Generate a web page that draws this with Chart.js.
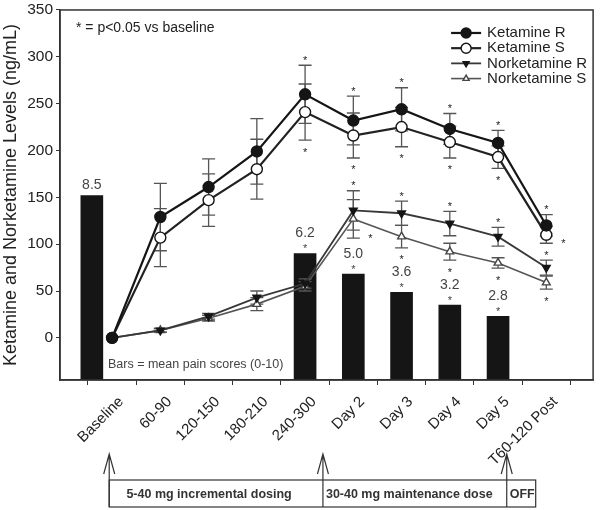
<!DOCTYPE html>
<html>
<head>
<meta charset="utf-8">
<script src="https://cdn.jsdelivr.net/npm/chart.js@4.4.1/dist/chart.umd.min.js"></script>
<style>
  html, body { margin: 0; padding: 0; background: #fff; }
</style>
</head>
<body>
<canvas id="chart" width="600" height="510"></canvas>
<script>
// ---- data ----
const timeLabels = ['Baseline', '60-90', '120-150', '180-210', '240-300', 'Day 2', 'Day 3', 'Day 4', 'Day 5', 'T60-120 Post'];

// plasma levels (ng/mL), mean and +/- error
const ketamineR = [0, 129, 161, 199, 260, 232, 244, 223, 208, 120];
const ketamineS = [0, 107, 147, 180, 241, 216, 225, 209, 193, 110];
const norketamineR = [0, 8, 23, 43, 58, 136, 133, 122, 108, 75];
const norketamineS = [0, 8, 21, 36, 55, 127, 108, 92, 80, 59];

const ketamineRErr = [0, 36, 30, 35, 31, 26, 23, 16.5, 13.5, 11.5];
const ketamineSErr = [0, 31, 28, 32, 30, 24, 21, 17, 12, 9];
const norketamineRErr = [0, 2, 3, 7, 5, 21, 13, 13, 10, 8];
const norketamineSErr = [0, 2, 3, 7, 5, 20.5, 12, 9, 5.5, 7];

// p<0.05 markers: where the asterisk sits relative to the error bar
const ketamineRSig = [null, null, null, null, 'above', 'above', 'above', 'above', 'above', 'above'];
const ketamineSSig = [null, null, null, null, 'below', 'below', 'below', 'below', 'below', 'right'];
const norketamineRSig = [null, null, null, null, null, 'above', 'above', 'above', 'above', 'above'];
const norketamineSSig = [null, null, null, null, null, 'right', 'below', 'below', 'below', 'below'];

// pain score bars (height read on the concentration axis)
const painX = [-0.42, 4, 5, 6, 7, 8];
const painHeights = [152, 90, 68, 48.5, 35, 23];
const painScores = ['8.5', '6.2', '5.0', '3.6', '3.2', '2.8'];
const painSig = [false, true, true, true, true, true];

const yTicks = [0, 50, 100, 150, 200, 250, 300, 350];
const yMin = -45;
const yMax = 350;

// dosing phases under the axis (x in time-point units)
const phaseLabels = ['5-40 mg incremental dosing', '30-40 mg maintenance dose', 'OFF'];
const phaseStarts = [-0.06, 4.37, 8.18];
const phaseEnd = 8.78;

const FONT = "'Liberation Sans', Arial, sans-serif";

const series = [
  { label: 'Ketamine R', data: ketamineR, err: ketamineRErr, sig: ketamineRSig,
    line: '#151515', width: 2.2, style: 'circle', fill: '#151515', stroke: '#151515', radius: 5.5, rot: 0, legR: 5 },
  { label: 'Ketamine S', data: ketamineS, err: ketamineSErr, sig: ketamineSSig,
    line: '#222', width: 2.2, style: 'circle', fill: '#fff', stroke: '#151515', radius: 5.5, rot: 0, legR: 5 },
  { label: 'Norketamine R', data: norketamineR, err: norketamineRErr, sig: norketamineRSig,
    line: '#383838', width: 1.8, style: 'triangle', fill: '#151515', stroke: '#151515', radius: 4.5, rot: 180, legR: 3.5 },
  { label: 'Norketamine S', data: norketamineS, err: norketamineSErr, sig: norketamineSSig,
    line: '#555', width: 1.6, style: 'triangle', fill: '#fff', stroke: '#444', radius: 4.5, rot: 0, legR: 3.5 }
];

const datasets = series.map((s, k) => ({
  type: 'line',
  label: s.label,
  data: s.data.map((v, i) => ({ x: i, y: v })),
  borderColor: s.line,
  borderWidth: s.width,
  pointStyle: s.style,
  pointRadius: s.radius,
  pointRotation: s.rot,
  pointBackgroundColor: s.fill,
  pointBorderColor: s.stroke,
  pointBorderWidth: 1.4,
  tension: 0,
  order: k
}));

datasets.push({
  type: 'bar',
  label: 'pain',
  data: painX.map((x, i) => ({ x: x, y: [yMin, painHeights[i]] })),
  backgroundColor: '#151515',
  borderWidth: 0,
  barThickness: 22,
  order: 10
});

function drawMarker(ctx, s, x, y, r) {
  ctx.save();
  ctx.beginPath();
  if (s.style === 'circle') {
    ctx.arc(x, y, r, 0, Math.PI * 2);
  } else {
    let rad = s.rot * Math.PI / 180;
    ctx.moveTo(x + Math.sin(rad) * r, y - Math.cos(rad) * r);
    rad += Math.PI * 2 / 3;
    ctx.lineTo(x + Math.sin(rad) * r, y - Math.cos(rad) * r);
    rad += Math.PI * 2 / 3;
    ctx.lineTo(x + Math.sin(rad) * r, y - Math.cos(rad) * r);
    ctx.closePath();
  }
  ctx.fillStyle = s.fill;
  ctx.fill();
  ctx.lineWidth = 1.4;
  ctx.strokeStyle = s.stroke;
  ctx.stroke();
  ctx.restore();
}

function star(ctx, x, y) {
  ctx.font = '11px ' + FONT;
  ctx.textAlign = 'center';
  ctx.textBaseline = 'alphabetic';
  ctx.fillText('*', x, y + 6.5);
}

// error bars go over the pain bars but under the lines
const errorBars = {
  id: 'errorBars',
  afterDatasetDraw(chart, args) {
    if (args.meta.type !== 'bar') return;
    const { ctx } = chart;
    const xs = chart.scales.x, ys = chart.scales.y;
    ctx.save();
    ctx.strokeStyle = '#555';
    ctx.lineWidth = 1.3;
    series.forEach(s => {
      s.data.forEach((v, i) => {
        const e = s.err[i];
        if (!e) return;
        const x = xs.getPixelForValue(i);
        const t = ys.getPixelForValue(v + e);
        const b = ys.getPixelForValue(v - e);
        ctx.beginPath();
        ctx.moveTo(x, t); ctx.lineTo(x, b);
        ctx.moveTo(x - 6.5, t); ctx.lineTo(x + 6.5, t);
        ctx.moveTo(x - 6.5, b); ctx.lineTo(x + 6.5, b);
        ctx.stroke();
      });
    });
    ctx.restore();
  }
};

const annotations = {
  id: 'annotations',
  afterDraw(chart) {
    const { ctx, chartArea: a } = chart;
    const xs = chart.scales.x, ys = chart.scales.y;
    ctx.save();

    // frame
    ctx.strokeStyle = '#333';
    ctx.lineWidth = 1.5;
    ctx.strokeRect(a.left, a.top, a.right - a.left, a.bottom - a.top);

    // significance asterisks
    ctx.fillStyle = '#222';
    series.forEach(s => {
      s.sig.forEach((p, i) => {
        if (!p) return;
        const x = xs.getPixelForValue(i);
        const t = ys.getPixelForValue(s.data[i] + s.err[i]);
        const b = ys.getPixelForValue(s.data[i] - s.err[i]);
        if (p === 'above') star(ctx, x, t - 8);
        else if (p === 'below') star(ctx, x, b + 9);
        else star(ctx, x + 17, b - 3);
      });
    });

    // pain score labels
    painX.forEach((px, i) => {
      const x = xs.getPixelForValue(px);
      const top = ys.getPixelForValue(painHeights[i]);
      ctx.fillStyle = '#444';
      ctx.font = '14px ' + FONT;
      ctx.textAlign = 'center';
      ctx.textBaseline = 'middle';
      if (painSig[i]) {
        ctx.fillText(painScores[i], x, top - 20);
        star(ctx, x, top - 8);
      } else {
        ctx.fillText(painScores[i], x, top - 10);
      }
    });

    // notes inside the plot
    ctx.fillStyle = '#222';
    ctx.font = '14px ' + FONT;
    ctx.textAlign = 'left';
    ctx.textBaseline = 'middle';
    ctx.fillText('* = p<0.05 vs baseline', a.left + 16, a.top + 18);
    ctx.fillStyle = '#444';
    ctx.font = '12.5px ' + FONT;
    ctx.fillText('Bars = mean pain scores (0-10)', a.left + 48, a.bottom - 15);

    // legend
    series.forEach((s, i) => {
      const y = a.top + 23 + i * 15.2;
      const x0 = a.right - 142;
      ctx.strokeStyle = s.line;
      ctx.lineWidth = s.width;
      ctx.beginPath();
      ctx.moveTo(x0, y); ctx.lineTo(x0 + 30, y);
      ctx.stroke();
      drawMarker(ctx, s, x0 + 15, y, s.legR);
      ctx.fillStyle = '#222';
      ctx.font = '15px ' + FONT;
      ctx.textAlign = 'left';
      ctx.textBaseline = 'middle';
      ctx.fillText(s.label, a.right - 106, y);
    });

    // dosing phases below the axis
    const tip = a.bottom + 74, boxTop = a.bottom + 100, boxBot = a.bottom + 127;
    const xEnd = xs.getPixelForValue(phaseEnd);
    const xStart = xs.getPixelForValue(phaseStarts[0]);
    ctx.strokeStyle = '#333';
    ctx.lineWidth = 1.2;
    ctx.strokeRect(xStart, boxTop, xEnd - xStart, boxBot - boxTop);
    phaseStarts.forEach((p, i) => {
      const x = xs.getPixelForValue(p);
      const next = i + 1 < phaseStarts.length ? xs.getPixelForValue(phaseStarts[i + 1]) : xEnd;
      ctx.beginPath();
      ctx.moveTo(x, boxBot); ctx.lineTo(x, tip);
      ctx.moveTo(x - 5.5, tip + 20); ctx.lineTo(x, tip); ctx.lineTo(x + 5.5, tip + 20);
      ctx.stroke();
      ctx.fillStyle = '#333';
      ctx.font = 'bold 12.5px ' + FONT;
      ctx.textBaseline = 'middle';
      const w = ctx.measureText(phaseLabels[i]).width;
      let left = (x + next) / 2 - 7 - w / 2;
      if (left < x + 3) left = x + 3;
      ctx.textAlign = 'left';
      ctx.fillText(phaseLabels[i], left, boxTop + 15);
    });

    ctx.restore();
  }
};

new Chart(document.getElementById('chart'), {
  type: 'line',
  data: { datasets },
  options: {
    responsive: false,
    animation: false,
    layout: { padding: { left: 0, right: 3, top: 7, bottom: 0 } },
    plugins: { legend: { display: false }, tooltip: { enabled: false } },
    scales: {
      x: {
        type: 'linear',
        min: -1.08,
        max: 9.97,
        offset: false,
        afterBuildTicks: s => { s.ticks = timeLabels.map((_, i) => ({ value: i })); },
        afterFit: s => { s.height = 130; },
        grid: { drawOnChartArea: false, drawTicks: true, tickLength: 5, color: '#333' },
        border: { display: true, color: '#333', width: 1.5 },
        ticks: {
          autoSkip: false, maxRotation: 45, minRotation: 45, padding: 8, labelOffset: 9,
          color: '#222', font: { size: 15, family: FONT },
          callback: v => timeLabels[v] ?? ''
        }
      },
      y: {
        type: 'linear',
        min: yMin,
        max: yMax,
        afterBuildTicks: s => { s.ticks = yTicks.map(v => ({ value: v })); },
        afterFit: s => { s.width = 60; },
        grid: { drawOnChartArea: false, drawTicks: true, tickLength: 4, color: '#333' },
        border: { display: true, color: '#333', width: 1.5 },
        ticks: { color: '#222', padding: 3, font: { size: 15.5, family: FONT, lineHeight: 0.9 } },
        title: {
          display: true,
          text: 'Ketamine and Norketamine Levels (ng/mL)',
          color: '#222',
          padding: { top: 0, bottom: 0 },
          font: { size: 18, family: FONT }
        }
      }
    }
  },
  plugins: [errorBars, annotations]
});
</script>
</body>
</html>
